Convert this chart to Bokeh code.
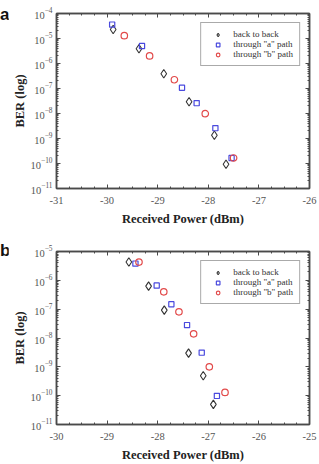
from bokeh.plotting import figure
from bokeh.models import (LinearAxis, LogAxis, FixedTicker, SingleIntervalTicker,
                          Legend, LegendItem, Range1d, CustomJSTickFormatter, Div)
from bokeh.layouts import column, row
from bokeh.embed import file_html
from bokeh.resources import INLINE

# ---- panel a: BER vs received power ----
a_b2b_x = [-29.88, -29.37, -28.88, -28.38, -27.88, -27.65]
a_b2b_y = [2.3e-5, 3.9e-6, 3.9e-7, 2.95e-8, 1.35e-9, 9.3e-11]
a_pa_x = [-29.90, -29.31, -28.52, -28.23, -27.86, -27.54]
a_pa_y = [3.6e-5, 5.0e-6, 1.07e-7, 2.6e-8, 2.6e-9, 1.66e-10]
a_pb_x = [-29.66, -29.16, -28.67, -28.06, -27.50]
a_pb_y = [1.3e-5, 2.0e-6, 2.24e-7, 9.8e-9, 1.66e-10]

# ---- panel b ----
b_b2b_x = [-28.57, -28.18, -27.87, -27.39, -27.10, -26.90]
b_b2b_y = [4.3e-6, 6.3e-7, 9.3e-8, 3.0e-9, 4.9e-10, 5.0e-11]
b_pa_x = [-28.44, -28.02, -27.73, -27.42, -27.13, -26.83]
b_pa_y = [3.8e-6, 6.6e-7, 1.48e-7, 2.8e-8, 3.1e-9, 9.8e-11]
b_pb_x = [-28.37, -27.88, -27.58, -27.29, -26.98, -26.67]
b_pb_y = [4.3e-6, 4.0e-7, 8.1e-8, 1.4e-8, 1.0e-9, 1.3e-10]

series_labels = ["back to back", 'through "a" path', 'through "b" path']
x_label = "Received Power (dBm)"
y_label = "BER (log)"

SERIF = "Liberation Serif"
FRAME = "#4a4a4a"
TICKTXT = "#555555"
TAG_W = 8


def decade_ticker(lo, hi):
    majors = [10.0 ** e for e in range(lo, hi + 1)]
    minors = [m * 10.0 ** e for e in range(lo, hi) for m in range(2, 10)]
    return FixedTicker(ticks=majors, minor_ticks=minors)


def style_axis(ax, show_labels):
    ax.axis_line_color = FRAME
    ax.axis_line_width = 1.5
    ax.major_tick_line_color = FRAME
    ax.minor_tick_line_color = FRAME
    ax.major_tick_in = 4
    ax.major_tick_out = 0
    ax.minor_tick_in = 2
    ax.minor_tick_out = 0
    ax.major_label_text_font = SERIF
    ax.major_label_text_color = TICKTXT
    ax.major_label_text_font_size = "10.5px"
    if not show_labels:
        ax.formatter = CustomJSTickFormatter(code="return ''")
        ax.major_label_standoff = 0


def tag_div(tag, pad_top):
    html = ("<div style=\"font-family:'Liberation Sans',Arial,sans-serif;"
            "font-weight:bold;font-size:17px;line-height:17px;color:#111;"
            f"padding-top:{pad_top}px;margin:0\">{tag}</div>")
    return Div(text=html, width=TAG_W, height=232, margin=0,
               styles={"padding": "0px", "overflow": "visible"})


def make_panel(xr, ylo, yhi, data, top, bottom):
    p = figure(width=319 - TAG_W, height=232, x_range=Range1d(*xr),
               y_range=Range1d(10.0 ** ylo, 10.0 ** yhi), y_axis_type="log",
               output_backend="svg", toolbar_location=None,
               min_border_left=56 - TAG_W, min_border_right=10,
               min_border_top=top, min_border_bottom=bottom)
    p.grid.visible = False
    p.outline_line_color = FRAME
    p.outline_line_width = 1.5

    xa = p.xaxis[0]
    xa.ticker = SingleIntervalTicker(interval=1, num_minor_ticks=4)
    style_axis(xa, True)
    xa.formatter = CustomJSTickFormatter(code="return tick.toFixed(0)")
    xa.major_label_standoff = 8
    xa.axis_label = x_label
    xa.axis_label_text_font = SERIF
    xa.axis_label_text_font_style = "bold"
    xa.axis_label_text_font_size = "12.5px"
    xa.axis_label_text_color = "#222222"
    xa.axis_label_standoff = 5

    ya = p.yaxis[0]
    ya.ticker = decade_ticker(ylo, yhi)
    style_axis(ya, True)
    ya.major_label_standoff = 4
    ya.axis_label = y_label
    ya.axis_label_text_font = SERIF
    ya.axis_label_text_font_style = "bold"
    ya.axis_label_text_font_size = "12.5px"
    ya.axis_label_text_color = "#222222"
    ya.axis_label_standoff = 1

    top_ax = LinearAxis(ticker=SingleIntervalTicker(interval=1, num_minor_ticks=4))
    style_axis(top_ax, False)
    p.add_layout(top_ax, "above")
    right_ax = LogAxis(ticker=decade_ticker(ylo, yhi))
    style_axis(right_ax, False)
    p.add_layout(right_ax, "right")

    (bx, by), (ax_, ay), (cx, cy) = data
    r1 = p.scatter(bx, by, marker="diamond", size=8.5,
                   fill_color=None, line_color="#333333", line_width=1.1)
    r2 = p.scatter(ax_, ay, marker="square", size=5.2,
                   fill_color=None, line_color="#4a4ade", line_width=1.2)
    r3 = p.scatter(cx, cy, marker="circle", size=6.5,
                   fill_color=None, line_color="#e24a4a", line_width=1.2)

    legend = Legend(items=[LegendItem(label=series_labels[0], renderers=[r1]),
                           LegendItem(label=series_labels[1], renderers=[r2]),
                           LegendItem(label=series_labels[2], renderers=[r3])],
                    location="top_right")
    legend.margin = 9
    legend.padding = 6
    legend.spacing = 0
    legend.glyph_width = 21
    legend.glyph_height = 9
    legend.label_height = 9
    legend.label_standoff = 5
    legend.label_text_font = SERIF
    legend.label_text_font_size = "9px"
    legend.label_text_color = "#333333"
    legend.border_line_color = "#555555"
    legend.border_line_width = 1.5
    legend.background_fill_alpha = 1.0
    p.add_layout(legend)
    return p


pa = make_panel((-31, -26), -11, -4,
                [(a_b2b_x, a_b2b_y), (a_pa_x, a_pa_y), (a_pb_x, a_pb_y)],
                top=13, bottom=44)
pb = make_panel((-30, -25), -11, -5,
                [(b_b2b_x, b_b2b_y), (b_pa_x, b_pa_y), (b_pb_x, b_pb_y)],
                top=19, bottom=36)

layout = column(row(tag_div("a", 6), pa, spacing=0),
                row(tag_div("b", 10), pb, spacing=0), spacing=0)
open("out.html", "w").write(file_html(layout, INLINE))
